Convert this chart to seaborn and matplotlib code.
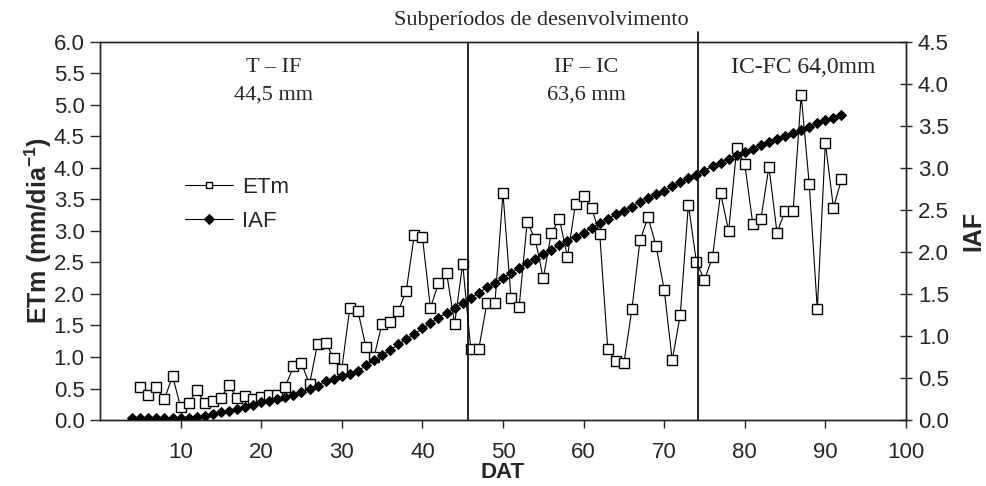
import numpy as np
import pandas as pd
import seaborn as sns
import matplotlib.pyplot as plt

# ETm (mm/dia) daily, day 5..92
etm_days = list(range(5, 93))
etm = [0.53, 0.39, 0.52, 0.33, 0.70, 0.21, 0.27, 0.47, 0.27, 0.30,
       0.35, 0.55, 0.35, 0.38, 0.33, 0.36, 0.40, 0.40, 0.53, 0.85,
       0.90, 0.57, 1.21, 1.23, 0.98, 0.81, 1.78, 1.73, 1.16, 1.00,
       1.53, 1.55, 1.73, 2.05, 2.94, 2.91, 1.78, 2.17, 2.34, 1.53,
       2.48, 1.13, 1.13, 1.85, 1.85, 3.60, 1.93, 1.79, 3.14, 2.87,
       2.25, 2.97, 3.19, 2.59, 3.43, 3.56, 3.36, 2.96, 1.13, 0.93,
       0.90, 1.76, 2.85, 3.22, 2.76, 2.07, 0.95, 1.67, 3.42, 2.51,
       2.22, 2.59, 3.60, 3.00, 4.31, 4.06, 3.11, 3.19, 4.02, 2.97,
       3.32, 3.32, 5.16, 3.74, 1.76, 4.40, 3.37, 3.82]

# IAF daily, day 4..92
iaf_days = list(range(4, 93))
iaf = [0.02, 0.02, 0.02, 0.02, 0.02, 0.02, 0.02, 0.02, 0.03, 0.05,
       0.07, 0.09, 0.11, 0.13, 0.15, 0.18, 0.21, 0.23, 0.25, 0.27,
       0.30, 0.33, 0.37, 0.41, 0.46, 0.49, 0.52, 0.55, 0.58, 0.65,
       0.71, 0.77, 0.83, 0.90, 0.96, 1.02, 1.09, 1.15, 1.22, 1.27,
       1.33, 1.39, 1.45, 1.51, 1.58, 1.63, 1.69, 1.75, 1.81, 1.87,
       1.92, 1.98, 2.02, 2.08, 2.13, 2.18, 2.23, 2.29, 2.34, 2.39,
       2.45, 2.49, 2.54, 2.60, 2.64, 2.69, 2.73, 2.78, 2.83, 2.88,
       2.92, 2.97, 3.02, 3.06, 3.11, 3.15, 3.19, 3.23, 3.27, 3.31,
       3.35, 3.38, 3.42, 3.45, 3.49, 3.53, 3.57, 3.60, 3.63]

# subperiod limits (DAT) and labels
limits = [45.6, 74.2]
period_names = ["T – IF", "IF – IC"]
period_amounts = ["44,5 mm", "63,6 mm"]
period_x = [21.5, 60.3]
last_period = "IC-FC 64,0mm"

sns.set_style("ticks")
plt.rcParams['font.family'] = ['Liberation Sans', 'DejaVu Sans']
plt.rcParams['mathtext.fontset'] = 'custom'
plt.rcParams['mathtext.rm'] = 'Liberation Sans:bold'
plt.rcParams['mathtext.bf'] = 'Liberation Sans:bold'

fig = plt.figure(figsize=(9.87, 4.86), dpi=100)
ax = fig.add_axes([0.1013, 0.1358, 0.8166, 0.7778])
ax2 = ax.twinx()

sns.lineplot(x=etm_days, y=etm, ax=ax, color='black', linewidth=0.8,
             marker='s', markersize=7, markerfacecolor='white',
             markeredgecolor='black', markeredgewidth=1, label='ETm',
             legend=False)
sns.lineplot(x=iaf_days, y=iaf, ax=ax2, color='black', linewidth=0.8,
             marker='D', markersize=5.6, markerfacecolor='black',
             markeredgecolor='black', label='IAF', legend=False)

ax.set_xlim(0, 100)
ax.set_ylim(0, 6)
ax2.set_ylim(0, 4.5)
ax.set_xticks(range(10, 101, 10))
ax.set_yticks(np.arange(0, 6.01, 0.5))
ax.set_yticklabels([f"{v:.1f}" for v in np.arange(0, 6.01, 0.5)])
ax2.set_yticks(np.arange(0, 4.51, 0.5))
ax2.set_yticklabels([f"{v:.1f}" for v in np.arange(0, 4.51, 0.5)])

for a in (ax, ax2):
    for s in a.spines.values():
        s.set_linewidth(1.0)
        s.set_color('#222222')
ax.tick_params(axis='x', labelsize=16, length=6, width=1, direction='out', pad=10)
ax.tick_params(axis='y', labelsize=16, length=7, width=1, direction='out', pad=4)
ax2.tick_params(axis='y', labelsize=16, length=9, width=1, direction='inout', pad=4)

ax.set_xlabel("DAT", fontsize=16, fontweight='bold')
ax.xaxis.set_label_coords(0.5, -0.112)
ax.set_ylabel("ETm (mm/dia$^{\\mathregular{-1}}$)", fontsize=18, fontweight='bold', labelpad=0)
ax2.set_ylabel("IAF", fontsize=18, fontweight='bold', labelpad=9)

ax.axvline(limits[0], color='black', linewidth=1.2)
ax.plot([limits[1], limits[1]], [0, 6.16], color='black', linewidth=1.2, clip_on=False)

serif = ['Liberation Serif', 'DejaVu Serif']
for xp, name, amount in zip(period_x, period_names, period_amounts):
    ax.text(xp, 5.59, name, ha='center', va='center', fontsize=16, family=serif)
    ax.text(xp, 5.16, amount, ha='center', va='center', fontsize=16, family=serif)
ax.text(87.2, 5.59, last_period, ha='center', va='center', fontsize=17, family=serif)
fig.text(0.548, 0.958, "Subperíodos de desenvolvimento", ha='center', va='center',
         fontsize=16, family=serif)

h1, l1 = ax.get_legend_handles_labels()
h2, l2 = ax2.get_legend_handles_labels()
leg = ax.legend(h1 + h2, l1 + l2, loc='upper left', bbox_to_anchor=(0.081, 0.696),
                frameon=False, fontsize=16, handlelength=2.16, labelspacing=0.6,
                handletextpad=0.4)
for lh in leg.legend_handles:
    lh.set_markersize(5)

fig.savefig("out.png", dpi=100)
